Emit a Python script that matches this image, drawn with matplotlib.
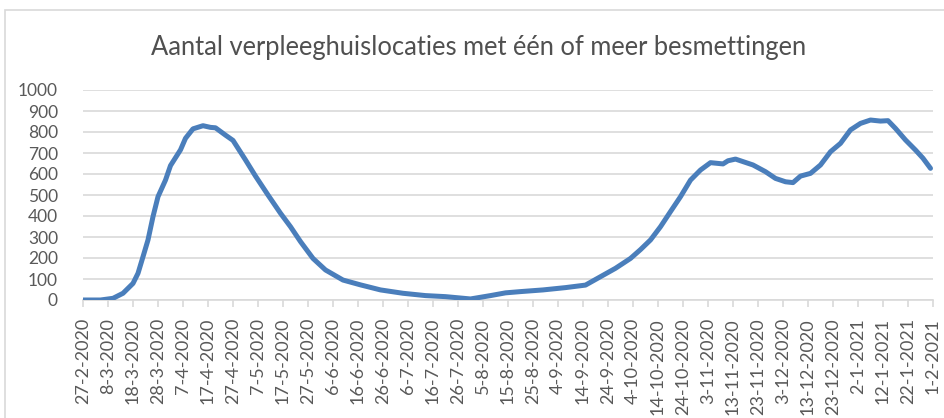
import matplotlib
matplotlib.use("Agg")
import matplotlib.pyplot as plt
import matplotlib.patches as patches
import numpy as np
import pandas as pd

# Days since 27-2-2020 and the value at that day
start = pd.Timestamp("2020-02-27")
day_offsets = [0, 7, 12, 16, 20, 22, 24, 26, 28, 30, 33, 35, 39, 41, 44, 48, 51, 53,
               57, 60, 65, 69, 74, 79, 83, 87, 92, 97, 104, 111, 119, 128, 137, 145,
               155, 163, 169, 175, 184, 193, 201, 207, 213, 219, 223, 227, 231, 235,
               239, 243, 247, 251, 256, 258, 261, 268, 273, 277, 281, 284, 287, 291,
               295, 299, 303, 307, 311, 315, 319, 322, 325, 329, 333, 336, 339]
locations = [0, 0, 8, 32, 79, 127, 206, 286, 397, 492, 571, 640, 715, 770, 815, 830, 822, 820,
             785, 760, 667, 590, 500, 413, 349, 278, 198, 143, 95, 72, 48, 32, 21, 16,
             5, 21, 34, 40, 48, 59, 71, 111, 151, 198, 240, 286, 349, 421,
             492, 571, 619, 654, 648, 663, 671, 643, 611, 579, 563, 559, 590, 603,
             643, 706, 746, 810, 841, 857, 852, 854, 817, 762, 714, 675, 627]

tick_days = list(range(0, 341, 10))
y_ticks = list(range(0, 1001, 100))

dates = [start + pd.Timedelta(days=d) for d in day_offsets]
tick_dates = [start + pd.Timedelta(days=d) for d in tick_days]
tick_labels = [f"{t.day}-{t.month}-{t.year}" for t in tick_dates]

plt.rcParams['font.family'] = ['Lato', 'DejaVu Sans']

fig = plt.figure(figsize=(9.45, 4.18), dpi=100)
fig.patch.set_facecolor("white")

# outer chart border (only top and left are visible in the reference)
fig.patches.append(patches.Rectangle((5 / 945, -0.05), 1.1, 0.05 + (418 - 10) / 418,
                                     transform=fig.transFigure, fill=False,
                                     edgecolor="#d9d9d9", linewidth=1.2))

ax = fig.add_axes([83 / 945, 1 - 300 / 418, 850 / 945, 210 / 418])
ax.plot(dates, locations, color="#4a7ebb", linewidth=3.6, solid_capstyle="round",
        solid_joinstyle="round", zorder=3)

ax.set_xlim(tick_dates[0], tick_dates[-1])
ax.set_ylim(0, 1000)
ax.set_yticks(y_ticks)
ax.set_yticklabels([str(v) for v in y_ticks])
ax.set_xticks(tick_dates)
ax.set_xticklabels(tick_labels, rotation=90)

ax.grid(axis="y", color="#d9d9d9", linewidth=1.2)
ax.set_axisbelow(True)
for side in ["top", "right", "left"]:
    ax.spines[side].set_visible(False)
ax.spines["bottom"].set_color("#d9d9d9")
ax.spines["bottom"].set_linewidth(1.2)

ax.tick_params(axis="y", length=0, pad=18, labelsize=12.5, labelcolor="#595959")
ax.tick_params(axis="x", direction="out", length=5, width=1.2, color="#d9d9d9",
               pad=8, labelsize=13, labelcolor="#595959")

fig.text(479 / 945, 1 - 47 / 418, "Aantal verpleeghuislocaties met één of meer besmettingen",
         ha="center", va="center", fontsize=18.4, color="#505050")

fig.savefig("out.png", dpi=100)
